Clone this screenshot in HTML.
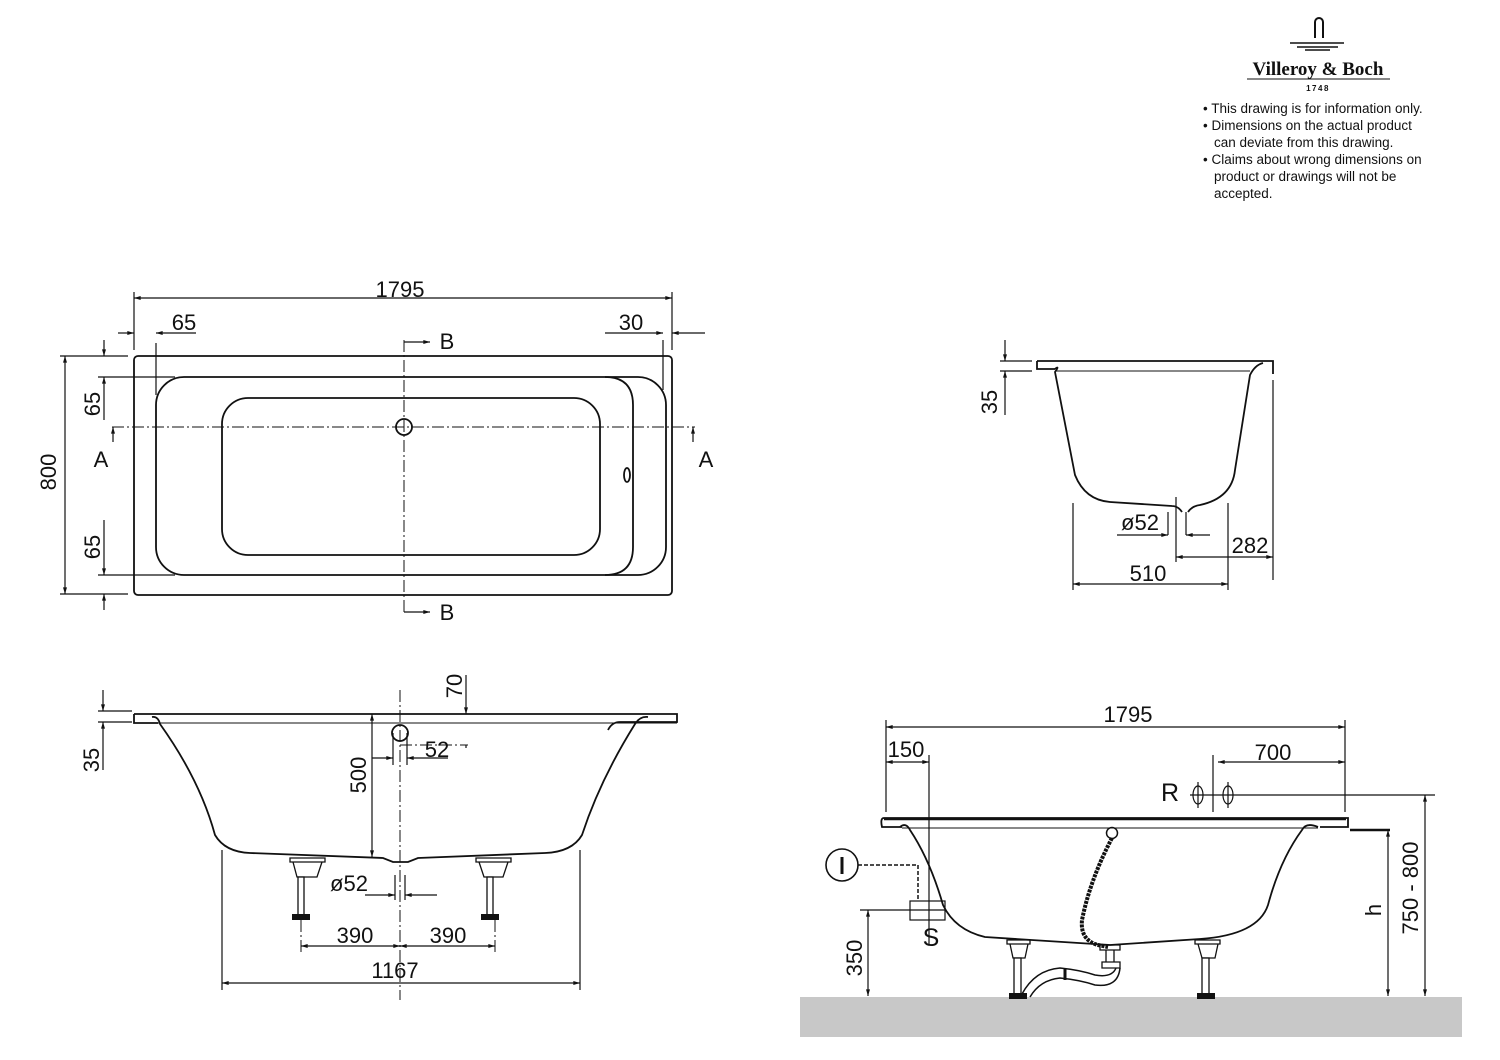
<!DOCTYPE html>
<html><head><meta charset="utf-8"><style>
html,body{margin:0;padding:0;background:#fff}
svg{display:block}
text{font-family:"Liberation Sans",sans-serif;fill:#111}
</style></head><body>
<svg width="1500" height="1060" viewBox="0 0 1500 1060" xmlns="http://www.w3.org/2000/svg">
<defs>
<marker id="a" viewBox="0 0 10 6" refX="10" refY="3" markerWidth="8" markerHeight="4" orient="auto-start-reverse" markerUnits="userSpaceOnUse"><path d="M0,0L10,3L0,6z" fill="#111"/></marker>
</defs>

<!-- Logo -->
<g stroke="#111" fill="none" stroke-width="2">
<path d="M1315,38 V22 a4,4 0 0 1 8,0 V38"/>
</g>
<g stroke="#111" stroke-width="1.5">
<line x1="1290" y1="43" x2="1344" y2="43"/>
<line x1="1297" y1="47" x2="1338" y2="47"/>
<line x1="1305" y1="50" x2="1330" y2="50"/>
</g>
<text x="1318" y="75" font-size="19" font-weight="bold" text-anchor="middle" style="font-family:'Liberation Serif',serif">Villeroy &amp; Boch</text>
<line x1="1247" y1="79" x2="1390" y2="79" stroke="#111" stroke-width="1"/>
<text x="1318" y="91" font-size="8" text-anchor="middle" font-weight="bold" letter-spacing="1.5">1748</text>
<g font-size="13.5">
<text x="1203" y="113">• This drawing is for information only.</text>
<text x="1203" y="130">• Dimensions on the actual product</text>
<text x="1214" y="147">can deviate from this drawing.</text>
<text x="1203" y="164">• Claims about wrong dimensions on</text>
<text x="1214" y="181">product or drawings will not be</text>
<text x="1214" y="198">accepted.</text>
</g>

<!-- TOP VIEW -->
<g fill="none" stroke="#111" stroke-width="1.8">
<rect x="134" y="356" width="538" height="239" rx="4"/>
<rect x="156" y="377" width="510" height="198" rx="28"/>
<path d="M605,377 Q633,377 633,405 V547 Q633,575 605,575"/>
<rect x="222" y="398" width="378" height="157" rx="26"/>
<circle cx="404" cy="427" r="8"/>
<ellipse cx="627" cy="475" rx="3" ry="7"/>
</g>
<g fill="none" stroke="#111" stroke-width="1" stroke-dasharray="12,3,2,3">
<line x1="112" y1="427" x2="695" y2="427"/>
<line x1="404" y1="340" x2="404" y2="615"/>
</g>
<g stroke="#111" stroke-width="1.2" fill="none">
<line x1="134" y1="292" x2="134" y2="350"/>
<line x1="672" y1="292" x2="672" y2="350"/>
<line x1="134" y1="298" x2="672" y2="298" marker-start="url(#a)" marker-end="url(#a)"/>
<line x1="118" y1="333" x2="134" y2="333" marker-end="url(#a)"/>
<line x1="196" y1="333" x2="156" y2="333" marker-end="url(#a)"/>
<line x1="156" y1="343" x2="156" y2="395"/>
<line x1="605" y1="333" x2="663" y2="333" marker-end="url(#a)"/>
<line x1="705" y1="333" x2="672" y2="333" marker-end="url(#a)"/>
<line x1="663" y1="340" x2="663" y2="390"/>
<line x1="60" y1="356" x2="128" y2="356"/>
<line x1="60" y1="594" x2="128" y2="594"/>
<line x1="65" y1="356" x2="65" y2="594" marker-start="url(#a)" marker-end="url(#a)"/>
<line x1="98" y1="377" x2="175" y2="377"/>
<line x1="98" y1="575" x2="175" y2="575"/>
<line x1="104" y1="340" x2="104" y2="356" marker-end="url(#a)"/>
<line x1="104" y1="420" x2="104" y2="377" marker-end="url(#a)"/>
<line x1="104" y1="520" x2="104" y2="575" marker-end="url(#a)"/>
<line x1="104" y1="610" x2="104" y2="594" marker-end="url(#a)"/>
<line x1="113" y1="442" x2="113" y2="427" marker-end="url(#a)"/>
<line x1="693" y1="442" x2="693" y2="427" marker-end="url(#a)"/>
<line x1="430" y1="342" x2="404" y2="342" marker-start="url(#a)"/>
<line x1="430" y1="612" x2="404" y2="612" marker-start="url(#a)"/>
</g>
<g font-size="22">
<text x="400" y="297" text-anchor="middle">1795</text>
<text x="184" y="330" text-anchor="middle">65</text>
<text x="631" y="330" text-anchor="middle">30</text>
<text x="101" y="467" text-anchor="middle">A</text>
<text x="706" y="467" text-anchor="middle">A</text>
<text x="447" y="349" text-anchor="middle">B</text>
<text x="447" y="620" text-anchor="middle">B</text>
<text transform="translate(56,472) rotate(-90)" text-anchor="middle">800</text>
<text transform="translate(100,404) rotate(-90)" text-anchor="middle">65</text>
<text transform="translate(100,547) rotate(-90)" text-anchor="middle">65</text>
</g>

<!-- SECTION B-B -->
<g fill="none" stroke="#111" stroke-width="1.8">
<path d="M1037,361 H1273 V374 M1037,361 V369 H1055"/>
<path d="M1055,369 Q1060,365 1055,372 L1075,475 Q1085,500 1110,502 L1172,506 Q1178,506 1182,512 M1188,512 Q1192,506 1200,505 Q1232,498 1235,470 L1250,375 Q1255,365 1263,363"/>
<line x1="1055" y1="371" x2="1250" y2="371" stroke-width="1"/>
</g>
<g stroke="#111" stroke-width="1.2" fill="none">
<line x1="1000" y1="361" x2="1032" y2="361"/>
<line x1="1000" y1="371" x2="1032" y2="371"/>
<line x1="1005" y1="340" x2="1005" y2="361" marker-end="url(#a)"/>
<line x1="1005" y1="415" x2="1005" y2="371" marker-end="url(#a)"/>
<line x1="1273" y1="380" x2="1273" y2="580"/>
<line x1="1073" y1="503" x2="1073" y2="590"/>
<line x1="1228" y1="503" x2="1228" y2="590"/>
<line x1="1073" y1="584" x2="1228" y2="584" marker-start="url(#a)" marker-end="url(#a)"/>
<line x1="1176" y1="497" x2="1176" y2="562"/>
<line x1="1176" y1="557" x2="1273" y2="557" marker-start="url(#a)" marker-end="url(#a)"/>
<line x1="1168" y1="512" x2="1168" y2="535"/>
<line x1="1186" y1="512" x2="1186" y2="535"/>
<line x1="1117" y1="535" x2="1168" y2="535" marker-end="url(#a)"/>
<line x1="1210" y1="535" x2="1186" y2="535" marker-end="url(#a)"/>
</g>
<g font-size="22">
<text transform="translate(997,402) rotate(-90)" text-anchor="middle">35</text>
<text x="1140" y="530" text-anchor="middle">ø52</text>
<text x="1250" y="553" text-anchor="middle">282</text>
<text x="1148" y="581" text-anchor="middle">510</text>
</g>

<!-- SECTION A-A -->
<g fill="none" stroke="#111" stroke-width="1.8">
<path d="M134,714 H677 V722 H620 Q612,722 608,730 M134,714 V723 H158"/>
<path d="M152,717 Q158,716 160,724 Q200,780 215,835 Q225,852 250,853 L383,858 L393,862 H408 L418,858 L545,853 Q572,852 582,835 Q600,780 635,724 Q640,716 648,717"/>
<line x1="158" y1="723" x2="677" y2="723" stroke-width="1"/>
<circle cx="400" cy="733" r="8"/>
</g>
<g stroke="#111" stroke-width="1.3" fill="none">
<path d="M290,858 H325 V862 H290 Z M293,862 L297,877 H317 L322,862 Z"/>
<path d="M476,858 H511 V862 H476 Z M479,862 L484,877 H503 L508,862 Z"/>
<rect x="298" y="877" width="6" height="38" fill="#fff"/>
<rect x="487" y="877" width="6" height="38" fill="#fff"/>
</g>
<rect x="292" y="914" width="18" height="6" fill="#111"/>
<rect x="481" y="914" width="18" height="6" fill="#111"/>
<g fill="none" stroke="#111" stroke-width="1" stroke-dasharray="12,3,2,3">
<line x1="400" y1="690" x2="400" y2="1000"/>
<line x1="400" y1="745" x2="468" y2="745"/>
<line x1="301" y1="920" x2="301" y2="955"/>
<line x1="495" y1="920" x2="495" y2="955"/>
</g>
<g stroke="#111" stroke-width="1.2" fill="none">
<line x1="98" y1="711" x2="132" y2="711"/>
<line x1="98" y1="722" x2="132" y2="722"/>
<line x1="103" y1="690" x2="103" y2="711" marker-end="url(#a)"/>
<line x1="103" y1="770" x2="103" y2="722" marker-end="url(#a)"/>
<line x1="372" y1="714" x2="372" y2="857" marker-start="url(#a)" marker-end="url(#a)"/>
<line x1="466" y1="675" x2="466" y2="714" marker-end="url(#a)"/>
<line x1="466" y1="748" x2="466" y2="745"/>
<line x1="393" y1="733" x2="393" y2="765"/>
<line x1="407" y1="733" x2="407" y2="765"/>
<line x1="372" y1="758" x2="393" y2="758" marker-end="url(#a)"/>
<line x1="448" y1="758" x2="407" y2="758" marker-end="url(#a)"/>
<line x1="395" y1="875" x2="395" y2="900"/>
<line x1="405" y1="875" x2="405" y2="900"/>
<line x1="365" y1="895" x2="395" y2="895" marker-end="url(#a)"/>
<line x1="437" y1="895" x2="405" y2="895" marker-end="url(#a)"/>
<line x1="301" y1="946" x2="400" y2="946" marker-start="url(#a)" marker-end="url(#a)"/>
<line x1="400" y1="946" x2="495" y2="946" marker-start="url(#a)" marker-end="url(#a)"/>
<line x1="222" y1="850" x2="222" y2="990"/>
<line x1="580" y1="850" x2="580" y2="990"/>
<line x1="222" y1="983" x2="580" y2="983" marker-start="url(#a)" marker-end="url(#a)"/>
</g>
<g font-size="22">
<text transform="translate(99,760) rotate(-90)" text-anchor="middle">35</text>
<text transform="translate(462,686) rotate(-90)" text-anchor="middle">70</text>
<text transform="translate(366,775) rotate(-90)" text-anchor="middle">500</text>
<text x="437" y="757" text-anchor="middle">52</text>
<text x="349" y="891" text-anchor="middle">ø52</text>
<text x="355" y="943" text-anchor="middle">390</text>
<text x="448" y="943" text-anchor="middle">390</text>
<text x="395" y="978" text-anchor="middle">1167</text>
</g>

<!-- SIDE VIEW -->
<rect x="800" y="997" width="662" height="40" fill="#c8c8c8"/>
<g fill="none" stroke="#111" stroke-width="1.8">
<path d="M884,818 H1348 V827 H1320 M884,818 Q880,818 882,827 H902"/>
<line x1="884" y1="819" x2="1346" y2="819" stroke-width="2.5"/>
<path d="M900,827 Q906,822 910,830 Q930,860 943,905 Q955,930 985,937 L1110,945 L1200,939 Q1258,935 1268,905 Q1280,860 1302,830 Q1306,822 1318,827"/>
<line x1="902" y1="828" x2="1318" y2="828" stroke-width="1"/>
<circle cx="842" cy="865" r="16" stroke-width="1.6"/>
<circle cx="1112" cy="833" r="5.5" stroke-width="1.5"/>
</g>
<line x1="842" y1="857" x2="842" y2="874" stroke="#111" stroke-width="3"/>
<path d="M1112,838 Q1090,880 1082,920 Q1080,940 1098,945 L1108,947" fill="none" stroke="#111" stroke-width="4" stroke-dasharray="3,1"/>
<g stroke="#111" stroke-width="1.3" fill="none">
<path d="M1007,940 H1030 V944 H1007 Z M1010,944 L1013,958 H1025 L1028,944 Z"/>
<path d="M1195,940 H1220 V944 H1195 Z M1198,944 L1202,958 H1215 L1218,944 Z"/>
<rect x="1014" y="958" width="7" height="36" fill="#fff"/>
<rect x="1202" y="958" width="7" height="36" fill="#fff"/>
<path d="M1100,945 H1120 V950 H1100 Z M1106,950 V962 H1114 V950 M1102,962 H1120 V968 H1102 Z"/>
<path d="M1022,994 Q1035,970 1060,968 Q1080,970 1095,975 Q1112,978 1116,968" stroke-width="1.5"/>
<path d="M1030,997 Q1040,980 1060,978 Q1080,980 1095,985 Q1118,988 1120,968" stroke-width="1.5"/>
<line x1="1065" y1="968" x2="1065" y2="980" stroke-width="3"/>
</g>
<rect x="1009" y="993" width="18" height="6" fill="#111"/>
<rect x="1197" y="993" width="18" height="6" fill="#111"/>
<g stroke="#111" stroke-width="1.5" fill="none" stroke-dasharray="4,2">
<path d="M858,865 H918 V900"/>
</g>
<g stroke="#111" stroke-width="1.2" fill="none">
<rect x="910" y="901" width="35" height="19"/>
<line x1="886" y1="720" x2="886" y2="812"/>
<line x1="1345" y1="720" x2="1345" y2="812"/>
<line x1="886" y1="727" x2="1345" y2="727" marker-start="url(#a)" marker-end="url(#a)"/>
<line x1="929" y1="755" x2="929" y2="945"/>
<line x1="886" y1="762" x2="929" y2="762" marker-start="url(#a)" marker-end="url(#a)"/>
<line x1="1213" y1="755" x2="1213" y2="812"/>
<line x1="1218" y1="762" x2="1345" y2="762" marker-start="url(#a)" marker-end="url(#a)"/>
<line x1="1190" y1="795" x2="1435" y2="795"/>
<ellipse cx="1198" cy="795" rx="5" ry="9"/>
<ellipse cx="1228" cy="795" rx="5" ry="9"/>
<line x1="1198" y1="782" x2="1198" y2="808"/>
<line x1="1228" y1="782" x2="1228" y2="808"/>
<line x1="1350" y1="830" x2="1390" y2="830" stroke-width="2.5"/>
<line x1="1388" y1="830" x2="1388" y2="996" marker-start="url(#a)" marker-end="url(#a)"/>
<line x1="1425" y1="795" x2="1425" y2="996" marker-start="url(#a)" marker-end="url(#a)"/>
<line x1="860" y1="910" x2="945" y2="910"/>
<line x1="868" y1="910" x2="868" y2="996" marker-start="url(#a)" marker-end="url(#a)"/>
</g>
<g font-size="22">
<text x="1128" y="722" text-anchor="middle">1795</text>
<text x="906" y="757" text-anchor="middle">150</text>
<text x="1273" y="760" text-anchor="middle">700</text>
<text x="1170" y="801" text-anchor="middle" font-size="25">R</text>
<text x="931" y="946" text-anchor="middle" font-size="25">S</text>
<text transform="translate(1381,910) rotate(-90)" text-anchor="middle">h</text>
<text transform="translate(1418,888) rotate(-90)" text-anchor="middle">750 - 800</text>
<text transform="translate(862,958) rotate(-90)" text-anchor="middle">350</text>
</g>
</svg>
</body></html>
